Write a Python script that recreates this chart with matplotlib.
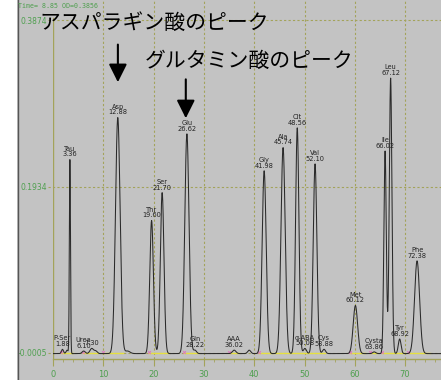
import numpy as np
import matplotlib
matplotlib.use("Agg")
import matplotlib.pyplot as plt
from matplotlib.patches import Rectangle
from matplotlib.lines import Line2D

# ---- data ----
peak_times = [1.88, 2.80, 3.36, 6.10, 7.70, 8.50, 12.88, 14.80, 19.60, 21.70,
              26.62, 28.22, 36.02, 39.00, 41.98, 45.74, 48.56, 50.08, 52.10,
              53.88, 60.12, 63.86, 66.02, 67.12, 68.92, 72.38]
peak_heights = [0.005, 0.004, 0.226, 0.003, 0.006, 0.003, 0.275, 0.003, 0.155,
                0.1875, 0.256, 0.004, 0.004, 0.004, 0.213, 0.240, 0.263, 0.006,
                0.221, 0.005, 0.056, 0.002, 0.236, 0.321, 0.017, 0.108]
peak_widths = [0.20, 0.20, 0.11, 0.30, 0.35, 0.30, 0.46, 0.50, 0.36, 0.36,
               0.42, 0.30, 0.35, 0.30, 0.40, 0.42, 0.33, 0.30, 0.36,
               0.30, 0.44, 0.30, 0.24, 0.26, 0.27, 0.50]
peak_names = ["P-Ser", "", "Tau", "Urea", "", "", "Asp", "", "Thr", "Ser",
              "Glu", "Gln", "AAA", "", "Gly", "Ala", "Cit", "α-ABA", "Val",
              "Cys", "Met", "Cysta", "Ile", "Leu", "Tyr", "Phe"]
peak_labels = ["1.88", "", "3.36", "6.10", "7.30", "", "12.88", "", "19.60", "21.70",
               "26.62", "28.22", "36.02", "", "41.98", "45.74", "48.56", "50.08", "52.10",
               "53.88", "60.12", "63.86", "66.02", "67.12", "68.92", "72.38"]
baseline_level = -0.0012
yellow_segments = [(1.5, 4.0), (6.0, 9.0), (10.0, 14.0), (19.0, 23.0), (26.0, 29.0),
                   (35.0, 37.0), (41.0, 54.0), (59.0, 62.0), (63.0, 64.5),
                   (65.5, 70.0), (70.5, 75.0)]
y_ticks = [-0.0005, 0.1934, 0.3874]
y_tick_labels = ["-0.0005", "0.1934", "0.3874"]
x_ticks = [0, 10, 20, 30, 40, 50, 60, 70]

GRAY = "#c3c3c3"
OLIVE = "#a3a35a"
GREEN = "#4f9f4f"

fig = plt.figure(figsize=(4.41, 3.8), dpi=100)
fig.patch.set_facecolor(GRAY)
fig.patches.append(Rectangle((0, 0), 17 / 441, 1, transform=fig.transFigure,
                             facecolor="white", edgecolor="none", zorder=0))
fig.lines.append(Line2D([17.5 / 441, 17.5 / 441], [0, 1], transform=fig.transFigure,
                        color="#555555", lw=1.0))

ax = fig.add_axes([53 / 441, 21 / 380, 388 / 441, 359 / 380])
ax.set_facecolor("none")
xmax = 388 / 5.03
ax.set_xlim(0, xmax)
ax.set_ylim(-0.0075, 0.4107)

for s in ["top", "right", "left"]:
    ax.spines[s].set_visible(False)
ax.spines["bottom"].set_color(OLIVE)
ax.spines["bottom"].set_linewidth(1.0)

# y axis line
ytop = 0.3897
ax.axvline(0, ymin=0, ymax=(ytop + 0.0075) / (0.4107 + 0.0075), color=OLIVE, lw=1.0)

# grids
for yv in y_ticks:
    ax.plot([-1.0, xmax], [yv, yv], ls=(0, (2, 2)), color=OLIVE, lw=0.8, clip_on=False, zorder=1)
for xv in x_ticks[1:]:
    ax.axvline(xv, ls=(0, (2, 2)), color=OLIVE, lw=0.8, zorder=1)

ax.set_yticks(y_ticks)
ax.set_yticklabels(y_tick_labels, color=GREEN, fontsize=5.5)
ax.tick_params(axis="y", length=0, pad=4)
ax.set_xticks(x_ticks)
ax.set_xticklabels([str(v) for v in x_ticks], color=GREEN, fontsize=6)
ax.set_xticks(np.arange(0, 77, 2), minor=True)
ax.tick_params(axis="x", which="major", length=5, color=OLIVE, pad=3)
ax.tick_params(axis="x", which="minor", length=2.5, color=OLIVE)

# chromatogram trace from peak table
t = np.linspace(0, xmax, 4000)
y = np.full_like(t, baseline_level)
for pt, ph, pw in zip(peak_times, peak_heights, peak_widths):
    y += ph * np.exp(-0.5 * ((t - pt) / pw) ** 2)

for a, b in yellow_segments:
    ax.plot([a, b], [baseline_level + 0.0008] * 2, color="#e6e040", lw=1.0, zorder=2)
    ax.plot([a], [baseline_level + 0.0015], marker="x", ms=2, mew=0.6, color="#e070c0", zorder=3)

ax.plot(t, y, color="#2a2a2a", lw=0.75, zorder=4)

# peak labels
for pt, ph, name, lab in zip(peak_times, peak_heights, peak_names, peak_labels):
    if not name and not lab:
        continue
    top = baseline_level + sum(h * np.exp(-0.5 * ((pt - p) / w) ** 2)
                               for p, h, w in zip(peak_times, peak_heights, peak_widths))
    txt = name + "\n" + lab if name else lab
    ax.annotate(txt, xy=(pt, top), xytext=(0, 1.5), textcoords="offset points",
                ha="center", va="bottom", fontsize=4.8, color="#222222",
                linespacing=0.95, zorder=5)

# header text
fig.text(18 / 441, 1 - 6 / 380, "Time= 8.85 OD=0.3856", fontsize=4.8,
         family="DejaVu Sans Mono", color=GREEN, ha="left", va="center")

# Japanese annotations with arrows
jp = ["Noto Sans CJK JP", "DejaVu Sans"]
ax.text(-2.6, 0.3835, "アスパラギン酸のピーク", fontsize=15, family=jp,
        ha="left", va="center", color="black", clip_on=False, zorder=6)
ax.text(18.3, 0.3395, "グルタミン酸のピーク", fontsize=15, family=jp,
        ha="left", va="center", color="black", clip_on=False, zorder=6)
arrow_kw = dict(arrowstyle="-|>,head_length=1.1,head_width=0.55", color="black", lw=1.5)
ax.annotate("", xy=(12.9, 0.3117), xytext=(12.9, 0.362), arrowprops=arrow_kw, zorder=6)
ax.annotate("", xy=(26.4, 0.2697), xytext=(26.4, 0.3215), arrowprops=arrow_kw, zorder=6)

fig.savefig("out.png", dpi=100, facecolor=fig.get_facecolor())
